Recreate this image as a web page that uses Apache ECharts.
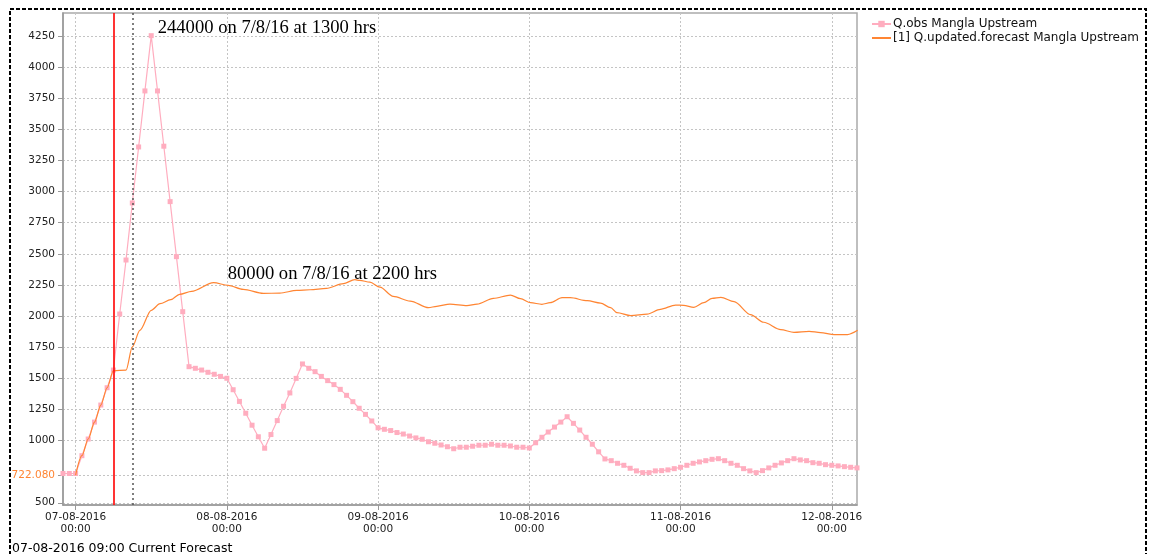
<!DOCTYPE html>
<html><head><meta charset="utf-8">
<script src="https://cdn.jsdelivr.net/npm/echarts@6/dist/echarts.min.js"></script>
<style>html,body{margin:0;padding:0;background:#fff}#c{width:1150px;height:554px}</style>
</head><body><div id="c"></div>
<script>
// Hours are counted from 07-08-2016 00:00
const obsName = 'Q.obs Mangla Upstream';
const fcName = '[1] Q.updated.forecast Mangla Upstream';
const obsStartHour = -2;
const obsValues = [
  735, 735, 735, 878, 1012, 1148, 1285, 1424, 1566, 2016,
  2450, 2908, 3358, 3808, 4252, 3808, 3364, 2919, 2477, 2035,
  1593, 1580, 1566, 1548, 1532, 1515, 1500, 1408, 1314, 1219,
  1123, 1030, 938, 1048, 1160, 1275, 1382, 1499, 1615, 1580,
  1553, 1515, 1481, 1449, 1411, 1363, 1312, 1259, 1210, 1157,
  1102, 1090, 1080, 1064, 1052, 1036, 1021, 1010, 990, 978,
  964, 950, 934, 946, 946, 954, 962, 962, 970, 962,
  962, 956, 946, 946, 940, 982, 1026, 1068, 1108, 1148,
  1191, 1138, 1084, 1026, 970, 909, 852, 838, 817, 801,
  777, 756, 742, 742, 756, 758, 764, 774, 785, 801,
  817, 828, 838, 849, 854, 838, 817, 801, 774, 756,
  742, 758, 780, 801, 820, 838, 854, 844, 838, 822,
  817, 806, 801, 796, 790, 785, 780
];
const fcHours = [0, 1, 2, 3, 4, 5, 6, 8, 9, 10.2, 12, 13.4, 15.1, 16.5, 18.4, 21.9, 24.2, 26.6, 29.8, 32.4,
  35.1, 37.2, 39.8, 42.5, 44.3, 45.1, 46.7, 48.3, 50.4, 53.1, 56.0, 57.3, 59.4, 62.1, 63.7, 66.3, 69.0, 70.6,
  72.2, 74.0, 75.3, 77.2, 78.5, 81.2, 83.3, 84.9, 85.9, 88.1, 90.7, 92.8, 95.2, 96.5, 98.1, 99.7, 101.0,
  102.4, 104.5, 107.1, 109.2, 111.9, 114.0, 116.4, 118.2, 120.4, 122.5, 124.1];
const fcValues = [722.08, 878, 1012, 1148, 1285, 1424, 1562, 1565, 1752, 1885, 2046, 2099, 2131, 2174, 2198, 2268, 2246, 2214, 2182, 2184,
  2206, 2211, 2222, 2260, 2292, 2286, 2272, 2232, 2158, 2120, 2067, 2078, 2096, 2083, 2096, 2142, 2168, 2139,
  2107, 2094, 2107, 2147, 2147, 2123, 2104, 2067, 2027, 2003, 2016, 2054, 2088, 2086, 2070, 2107, 2142,
  2150, 2115, 2011, 1950, 1891, 1869, 1877, 1867, 1851, 1851, 1885];
const yTicks = [500, 722.08, 1000, 1250, 1500, 1750, 2000, 2250, 2500, 2750, 3000, 3250, 3500, 3750, 4000, 4250];
const xTicks = [0, 24, 48, 72, 96, 120];
const dayLabels = ['07-08-2016', '08-08-2016', '09-08-2016', '10-08-2016', '11-08-2016', '12-08-2016'];
const analysisHour = 6;
const forecastHour = 9;
const peakNote = { hour: 12, value: 4250, text: '244000 on 7/8/16 at 1300 hrs' };
const fcNote = { hour: 22, value: 2268, text: '80000 on 7/8/16 at 2200 hrs' };
const footText = '07-08-2016 09:00 Current Forecast';

const obsData = obsValues.map((v, i) => [obsStartHour + i, v]);
const fcData = fcHours.map((h, i) => [h, fcValues[i]]);

const pink = '#ffadbf';
const orange = '#ff8533';
const font = 'DejaVu Sans';
const gridLine = { show: true, lineStyle: { color: '#c4c4c4', type: [2, 2], width: 1 } };

const chart = echarts.init(document.getElementById('c'), null, { renderer: 'canvas' });
chart.setOption({
  animation: false,
  backgroundColor: '#fff',
  grid: { left: 63, top: 13, right: 293, bottom: 49, show: true, borderColor: '#aaaaaa', borderWidth: 1.5, backgroundColor: '#fff' },
  legend: {
    data: [{ name: obsName }, { name: fcName, itemStyle: { opacity: 0 } }],
    orient: 'vertical', left: 866, top: 13, itemGap: 2,
    itemWidth: 19, itemHeight: 8,
    textStyle: { fontFamily: font, fontSize: 12, color: '#111', padding: [0, 0, 0, -3] }
  },
  xAxis: {
    type: 'value', min: -2, max: 124,
    axisLine: { onZero: false, lineStyle: { color: '#999', width: 1.5 } },
    axisTick: { show: true, length: 5, customValues: xTicks, lineStyle: { color: '#999' } },
    axisLabel: {
      customValues: xTicks, fontFamily: font, fontSize: 10.5, color: '#222', margin: 6, lineHeight: 12,
      formatter: v => dayLabels[Math.round(v / 24)] + '\n00:00'
    },
    splitLine: gridLine
  },
  yAxis: {
    type: 'value', min: 482, max: 4434,
    axisLine: { show: true, onZero: false, lineStyle: { color: '#999', width: 1.5 } },
    axisTick: { show: true, length: 5, customValues: yTicks, lineStyle: { color: '#999' } },
    axisLabel: {
      customValues: yTicks, fontFamily: font, fontSize: 10.5, color: '#222', margin: 8,
      formatter: v => Math.abs(v - 722.08) < 0.01 ? '{o|722.080}' : String(v),
      rich: { o: { color: orange, fontFamily: font, fontSize: 10.5 } }
    },
    splitLine: gridLine
  },
  series: [
    {
      name: obsName, type: 'line', data: obsData, z: 3,
      symbol: 'rect', symbolSize: 5, showAllSymbol: true,
      lineStyle: { color: pink, width: 1.2 }, itemStyle: { color: pink },
      markPoint: {
        symbol: 'circle', symbolSize: 1, itemStyle: { color: 'rgba(0,0,0,0)' },
        label: { show: true, position: 'right', distance: 6, offset: [0, -8], color: '#000', fontFamily: 'Liberation Serif', fontSize: 18.6, formatter: p => p.name },
        data: [{ name: peakNote.text, coord: [peakNote.hour, peakNote.value] }]
      },
      markLine: {
        silent: true, symbol: 'none', label: { show: false }, animation: false,
        lineStyle: { color: '#ff1010', type: 'solid', width: 1.7, opacity: 1 },
        emphasis: { disabled: true },
        data: [{ xAxis: analysisHour, itemStyle: { color: '#ff1010' }, lineStyle: { color: '#ff1010' } }]
      }
    },
    {
      name: fcName, type: 'line', data: fcData, z: 4,
      symbol: 'none', smooth: 0.3, smoothMonotone: 'x',
      lineStyle: { color: orange, width: 1.2 }, itemStyle: { color: orange },
      markPoint: {
        symbol: 'circle', symbolSize: 1, itemStyle: { color: 'rgba(0,0,0,0)' },
        label: { show: true, position: 'right', distance: 13, offset: [0, -9], color: '#000', fontFamily: 'Liberation Serif', fontSize: 18.6, formatter: p => p.name },
        data: [{ name: fcNote.text, coord: [fcNote.hour, fcNote.value] }]
      },
      markLine: {
        silent: true, symbol: 'none', label: { show: false }, animation: false,
        lineStyle: { color: '#555', type: [2, 3], width: 1.5, opacity: 1 },
        data: [{ xAxis: forecastHour }]
      }
    }
  ],
  graphic: [
    { type: 'text', left: 12, top: 542, style: { text: footText, font: '12.5px "DejaVu Sans"', fill: '#000' } },
    { type: 'rect', z: 100, silent: true, shape: { x: 10, y: 9, width: 1136, height: 580 },
      style: { fill: 'none', stroke: '#000', lineWidth: 2, lineDash: [4, 2] } }
  ]
});
</script>
</body></html>
